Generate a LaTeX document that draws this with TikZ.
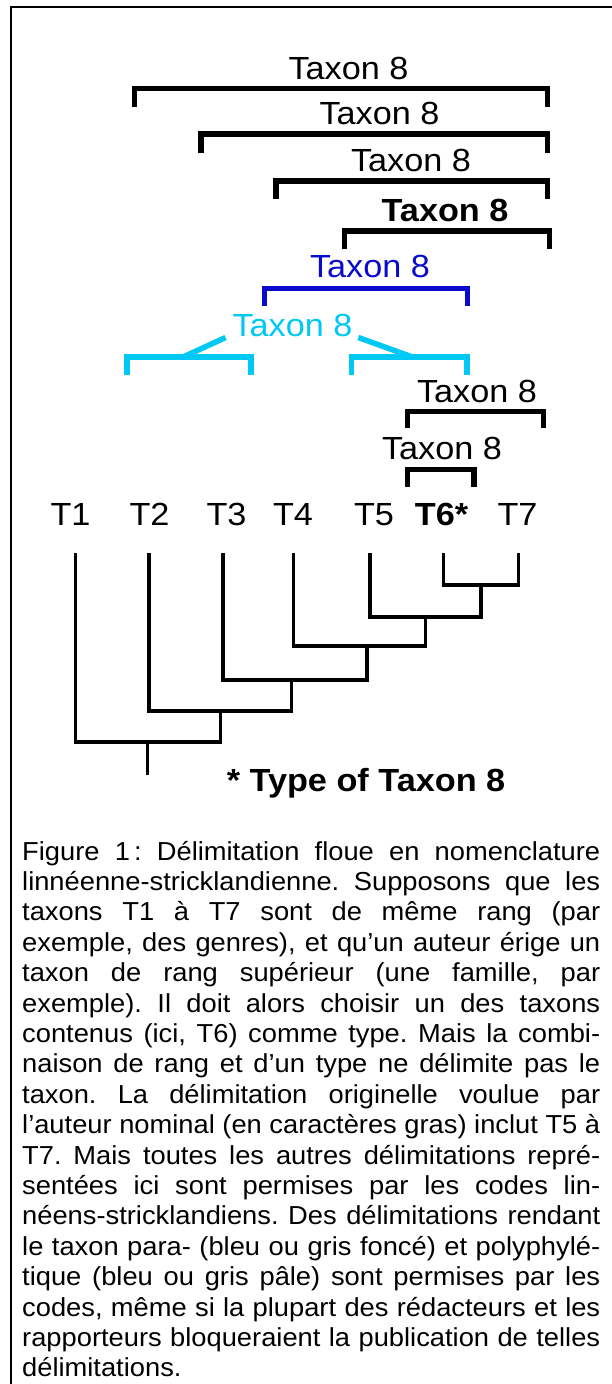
\documentclass[tikz,border=0pt]{standalone}
\usepackage{graphicx}
\usepackage{fontspec}
\setmainfont{Liberation Sans}
\definecolor{tblue}{RGB}{10,10,205}
\definecolor{tcyan}{RGB}{0,200,245}
\newcommand\hx[1]{\scalebox{1.07}[1]{#1}}
\tikzset{
  brk/.style={line width=5.5pt, line cap=butt, line join=miter},
  lbl/.style={inner sep=0pt, anchor=base, font=\fontsize{32}{38}\selectfont},
  boldlbl/.style={lbl, font=\bfseries\fontsize{32}{38}\selectfont},
  branch/.style={line width=3.2pt, line cap=butt, line join=miter},
}
\begin{document}
\begin{tikzpicture}[x=1pt,y=-1pt]
\useasboundingbox (0,0) rectangle (612,1384);
% frame
\draw[line width=2.2pt, line join=miter] (612,6.7) -- (11,6.7) -- (11,1384);

% black brackets
\node[lbl] (t1) at (348.5,79.5) {\hx{Taxon 8}};
\draw[brk] (134.5,106.5) -- (134.5,88.5) -- (547.5,88.5) -- (547.5,106.5);
\node[lbl] (t2) at (379.5,124.5) {\hx{Taxon 8}};
\draw[brk] (201,153) -- (201,134) -- (547.5,134) -- (547.5,153);
\node[lbl] (t3) at (411,171) {\hx{Taxon 8}};
\draw[brk] (276,199) -- (276,180.8) -- (547.5,180.8) -- (547.5,199);
\node[boldlbl] (t4) at (445,221.5) {\hx{Taxon 8}};
\draw[brk] (344.5,249) -- (344.5,230.8) -- (549.5,230.8) -- (549.5,249);

% blue (paraphyletic)
\node[lbl, text=tblue] (tb) at (370,277.5) {\hx{Taxon 8}};
\draw[brk, tblue] (264.5,305.7) -- (264.5,288.5) -- (467.4,288.5) -- (467.4,305.7);

% cyan (polyphyletic)
\node[lbl, text=tcyan] (tc) at (292.5,336) {\hx{Taxon 8}};
\draw[brk, tcyan] (127,374.7) -- (127,356.8) -- (251,356.8) -- (251,374.7);
\draw[brk, tcyan] (351.5,374.7) -- (351.5,356.8) -- (467,356.8) -- (467,374.7);
\coordinate (cl1) at (225.6,337.5);
\coordinate (cl2) at (183.5,356.8);
\coordinate (cr1) at (358.3,337.5);
\coordinate (cr2) at (411.8,356.8);
\draw[brk, tcyan] (cl1) -- (cl2);
\draw[brk, tcyan] (cr1) -- (cr2);

% lower black brackets
\node[lbl] (t6) at (477,402) {\hx{Taxon 8}};
\draw[brk] (407.7,428.3) -- (407.7,411.5) -- (543.5,411.5) -- (543.5,428.3);
\node[lbl] (t7) at (442,459) {\hx{Taxon 8}};
\draw[brk] (407.7,487) -- (407.7,469.5) -- (474,469.5) -- (474,487);

% terminal labels
\node[lbl] (T1) at (70.5,525) {\hx{T1}};
\node[lbl] (T2) at (149.5,525) {\hx{T2}};
\node[lbl] (T3) at (226.5,525) {\hx{T3}};
\node[lbl] (T4) at (293,525) {\hx{T4}};
\node[lbl] (T5) at (374,525) {\hx{T5}};
\node[boldlbl] (T6) at (441.5,525) {\hx{T6*}};
\node[lbl] (T7) at (517.5,525) {\hx{T7}};

% tree
\coordinate (l1) at (75.3,553);
\coordinate (l2) at (149,553);
\coordinate (l3) at (223,553);
\coordinate (l4) at (293.5,553);
\coordinate (l5) at (370,553);
\coordinate (l6) at (443.8,553);
\coordinate (l7) at (518.3,553);
\coordinate (n67) at (481,585);
\coordinate (n5) at (425.5,617);
\coordinate (n4) at (367,646);
\coordinate (n3) at (291.6,680);
\coordinate (n2) at (220.5,711);
\coordinate (n1) at (147.5,742);
\coordinate (root) at (147.5,775);
\draw[branch] (l6) |- (n67) -| (l7);
\draw[branch] (l5) |- (n5) -| (n67);
\draw[branch] (l4) |- (n4) -| (n5);
\draw[branch] (l3) |- (n3) -| (n4);
\draw[branch] (l2) |- (n2) -| (n3);
\draw[branch] (l1) |- (n1) -| (n2);
\draw[branch] (n1) -- (root);

\node[boldlbl] (type) at (366,791) {\hx{* Type of Taxon 8}};

% caption
\node[inner sep=0pt, anchor=base west] (cap) at (22,860)
{\scalebox{1.05}[1]{\parbox[t]{550.5pt}{\fontsize{26}{30.4}\selectfont
\frenchspacing\hyphenpenalty=10000\exhyphenpenalty=10000\tolerance=10000
Figure 1\hspace{0.15em}: Délimitation floue en nomenclature\linebreak
linnéenne-stricklandienne. Supposons que les\linebreak
taxons T1 à T7 sont de même rang (par\linebreak
exemple, des genres), et qu’un auteur érige un\linebreak
taxon de rang supérieur (une famille, par\linebreak
exemple). Il doit alors choisir un des taxons\linebreak
contenus (ici, T6) comme type. Mais la combi-\linebreak
naison de rang et d’un type ne délimite pas le\linebreak
taxon. La délimitation originelle voulue par\linebreak
l’auteur nominal (en caractères gras) inclut T5 à\linebreak
T7. Mais toutes les autres délimitations repré-\linebreak
sentées ici sont permises par les codes lin-\linebreak
néens-stricklandiens. Des délimitations rendant\linebreak
le taxon para- (bleu ou gris foncé) et polyphylé-\linebreak
tique (bleu ou gris pâle) sont permises par les\linebreak
codes, même si la plupart des rédacteurs et les\linebreak
rapporteurs bloqueraient la publication de telles\linebreak
délimitations.\par}}};
\end{tikzpicture}
\end{document}
